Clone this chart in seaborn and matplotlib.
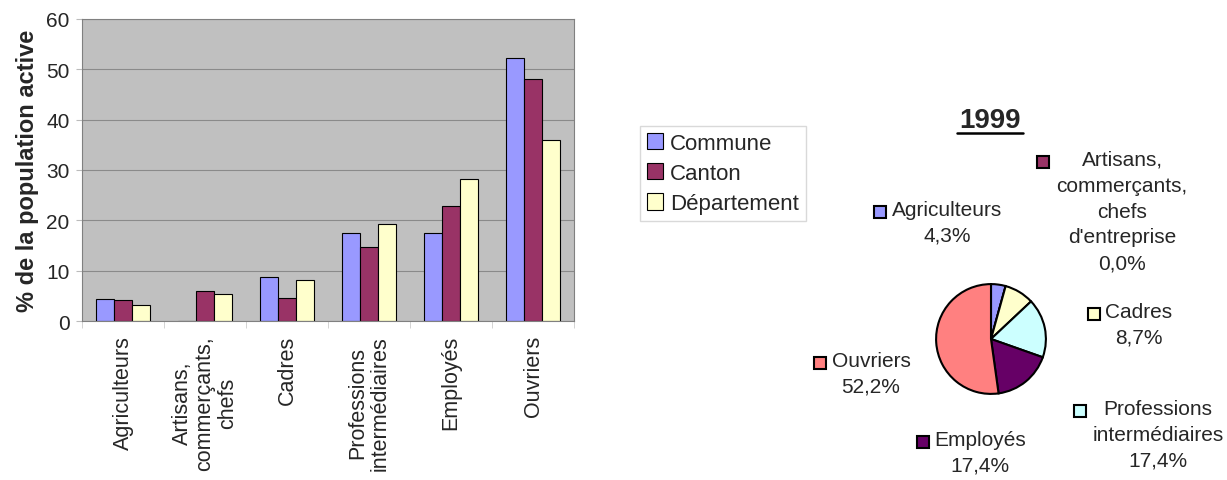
import pandas as pd
import numpy as np
import matplotlib.pyplot as plt
import seaborn as sns
from matplotlib.patches import Rectangle, Patch

categories = ['Agriculteurs', 'Artisans,\ncommerçants,\nchefs', 'Cadres',
              'Professions\nintermédiaires', 'Employés', 'Ouvriers']
commune = [4.4, 0.0, 8.8, 17.4, 17.4, 52.2]
canton = [4.1, 5.9, 4.5, 14.8, 22.9, 48.0]
departement = [3.2, 5.4, 8.1, 19.2, 28.2, 36.0]
series_names = ['Commune', 'Canton', 'Département']

pie_labels = ['Agriculteurs', "Artisans,\ncommerçants,\nchefs\nd'entreprise", 'Cadres',
              'Professions\nintermédiaires', 'Employés', 'Ouvriers']
pie_values = [4.3, 0.0, 8.7, 17.4, 17.4, 52.2]
pie_colors = ['#9999FF', '#993366', '#FFFFCC', '#CCFFFF', '#660066', '#FF8080']

sns.set_style('white')
plt.rcParams['font.family'] = ['Liberation Sans', 'DejaVu Sans']

df = pd.DataFrame({
    'cat': categories * 3,
    'serie': sum([[s] * len(categories) for s in series_names], []),
    'val': commune + canton + departement,
})

fig = plt.figure(figsize=(12.27, 4.81), dpi=100)
ax = fig.add_axes([82 / 1227, 1 - 322 / 481, 492 / 1227, 302 / 481])
ax.set_facecolor('#C0C0C0')
sns.barplot(data=df, x='cat', y='val', hue='serie', ax=ax,
            palette=['#9999FF', '#993366', '#FFFFCC'], width=0.66, gap=0,
            edgecolor='black', linewidth=0.8, saturation=1, legend=False)
ax.set_ylim(0, 60)
ax.set_xlim(-0.5, 5.5)
ax.set_yticks(range(0, 61, 10))
ax.yaxis.grid(True, color='#8a8a8a', linewidth=0.8)
ax.set_axisbelow(True)
for s in ax.spines.values():
    s.set_color('#808080')
ax.tick_params(axis='y', labelsize=15, length=4, color='#bbbbbb', pad=5, left=True)
ax.set_xticks(range(6))
ax.set_xticklabels(categories, rotation=90, fontsize=15.5, ha='center', va='top',
                   multialignment='center', linespacing=1.1)
ax.tick_params(axis='x', length=0, pad=10)
ax.set_xticks(np.arange(-0.5, 6.0, 1), minor=True)
ax.tick_params(axis='x', which='minor', length=5, color='#cccccc', bottom=True)
ax.set_xlabel('')
ax.set_ylabel('% de la population active', fontsize=17, fontweight='bold', labelpad=5)

handles = [Patch(facecolor=c, edgecolor='black', linewidth=0.8)
           for c in ['#9999FF', '#993366', '#FFFFCC']]
leg = fig.legend(handles, series_names, loc='upper left',
                 bbox_to_anchor=(640 / 1227, 1 - 127 / 481), fontsize=16,
                 frameon=True, fancybox=False, edgecolor='#d0d0d0',
                 handlelength=0.75, handleheight=0.75, handletextpad=0.3,
                 borderpad=0.3, labelspacing=0.42, borderaxespad=0)
leg.get_frame().set_linewidth(1.0)

# pie
r = 56
cx, cy = 991, 340
pax = fig.add_axes([(cx - r) / 1227, 1 - (cy + r) / 481, 2 * r / 1227, 2 * r / 481])
pax.pie(pie_values, colors=pie_colors, startangle=90, counterclock=False,
        wedgeprops=dict(edgecolor='black', linewidth=1.5))
pax.set_xlim(-1.02, 1.02)
pax.set_ylim(-1.02, 1.02)
pax.set_aspect('auto')

fig.text(990 / 1227, 1 - 121 / 481, '1999', fontsize=20, fontweight='bold',
         ha='center', va='center')
fig.add_artist(plt.Line2D([957 / 1227, 1023 / 1227], [1 - 134 / 481] * 2,
                          color='black', linewidth=1.8))

# label positions: (square x, square y, text x, text y)
label_pos = [
    (880, 213, 947, 213),
    (1043, 163, 1122, 163),
    (1094, 315, 1139, 315),
    (1080, 412, 1158, 412),
    (923, 443, 980, 443),
    (820, 364, 871, 364),
]
for (lab, v, col, (sx, sy, tx, ty)) in zip(pie_labels, pie_values, pie_colors, label_pos):
    fig.add_artist(Rectangle(((sx - 6) / 1227, 1 - (sy + 6) / 481), 12 / 1227, 12 / 481,
                             facecolor=col, edgecolor='black', linewidth=1.5,
                             transform=fig.transFigure))
    txt = lab + '\n' + f'{v:.1f}'.replace('.', ',') + '%'
    fig.text(tx / 1227, 1 - (ty - 12) / 481, txt, fontsize=15, ha='center', va='top',
             multialignment='center', linespacing=1.45)

plt.savefig('out.png', dpi=100)
